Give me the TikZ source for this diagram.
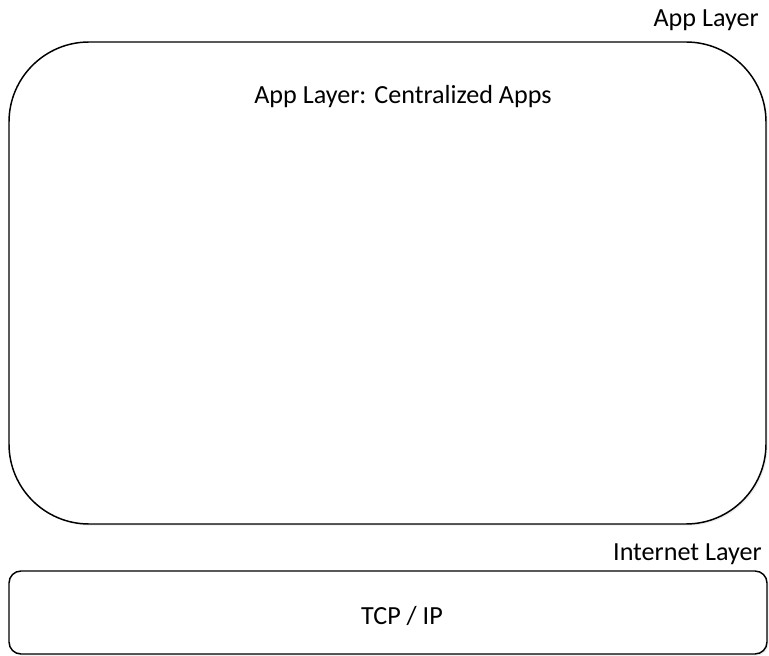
\documentclass[tikz,border=0pt]{standalone}
\usepackage{fontspec}
\setmainfont{Carlito}
\usetikzlibrary{shadows}
\begin{document}
\begin{tikzpicture}[x=0.75pt,y=-0.75pt,
  layerbox/.style={draw=black, line width=1.1pt, fill=white, inner sep=0pt,
    drop shadow={shadow xshift=1.2pt, shadow yshift=-1.2pt, fill=black!12, opacity=0.6}},
  txt/.style={font=\fontsize{19.6}{23}\selectfont, inner sep=0pt}]
\useasboundingbox (0,0) rectangle (769,656);
\node[layerbox, rounded corners=60pt, minimum width=757*0.75pt, minimum height=482*0.75pt] (app) at (387.5,283) {};
\node[layerbox, rounded corners=9pt, minimum width=758*0.75pt, minimum height=83*0.75pt] (inet) at (388,612.5) {};
\node[txt, anchor=base east] (applbl) at (759,27) {App Layer};
\node[txt, anchor=base] (apptitle) at (403,104) {App Layer: Centralized Apps};
\node[txt, anchor=base east] (inetlbl) at (762,561) {Internet Layer};
\node[txt, anchor=base] (tcp) at (402,624) {TCP / IP};
\end{tikzpicture}
\end{document}
